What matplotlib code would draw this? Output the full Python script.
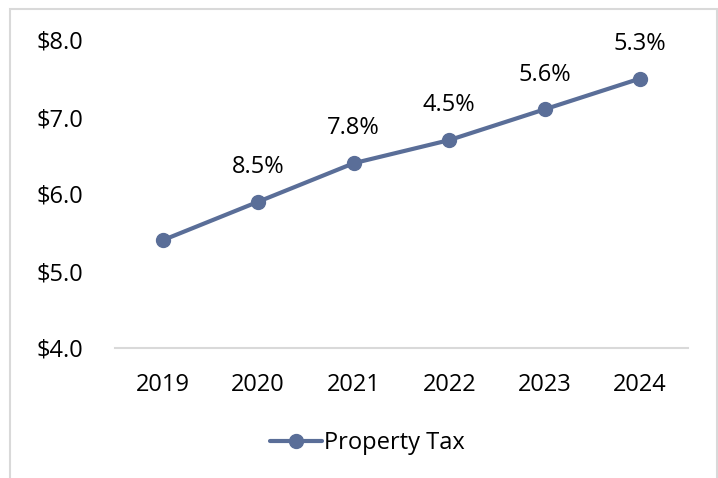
import matplotlib.pyplot as plt
from matplotlib.patches import Rectangle

years = ["2019", "2020", "2021", "2022", "2023", "2024"]
property_tax = [5.4, 5.9, 6.4, 6.7, 7.1, 7.5]          # $ billions
growth_labels = ["", "8.5%", "7.8%", "4.5%", "5.6%", "5.3%"]
y_ticks = [4.0, 5.0, 6.0, 7.0, 8.0]

plt.rcParams['font.family'] = ['Open Sans', 'DejaVu Sans']
line_color = "#5a6e98"
grid_color = "#d9d9d9"

fig = plt.figure(figsize=(7.18, 4.78), dpi=100)
ax = fig.add_axes([115 / 718, 130 / 478, 573 / 718, 308 / 478])

x = range(len(years))
ax.plot(x, property_tax, color=line_color, linewidth=3, marker="o",
        markersize=10, label="Property Tax", solid_capstyle="round")

for i, lab in enumerate(growth_labels):
    if lab:
        ax.annotate(lab, (i, property_tax[i]), xytext=(0, 25),
                    textcoords="offset points", ha="center", va="center",
                    fontsize=17)

ax.set_xlim(-0.5, len(years) - 0.5)
ax.set_ylim(4, 8)
ax.set_xticks(list(x))
ax.set_xticklabels(years)
ax.set_yticks(y_ticks)
ax.set_yticklabels([f"${v:.1f}" for v in y_ticks])
ax.tick_params(axis="both", length=0, labelsize=17)
ax.tick_params(axis="y", pad=23)
ax.tick_params(axis="x", pad=18)

for side in ["top", "right", "left"]:
    ax.spines[side].set_visible(False)
ax.spines["bottom"].set_color(grid_color)
ax.spines["bottom"].set_linewidth(1.5)

fig.legend(loc="center", bbox_to_anchor=(0.512, 0.073), frameon=False,
           fontsize=17, handlelength=2.2, handletextpad=0.1)

fig.patches.append(Rectangle((9.5 / 718, -0.1), (717 - 9.5) / 718, 1.1 - 9 / 478,
                             transform=fig.transFigure, fill=False,
                             edgecolor=grid_color, linewidth=1.5))

fig.savefig("out.png", dpi=100)
